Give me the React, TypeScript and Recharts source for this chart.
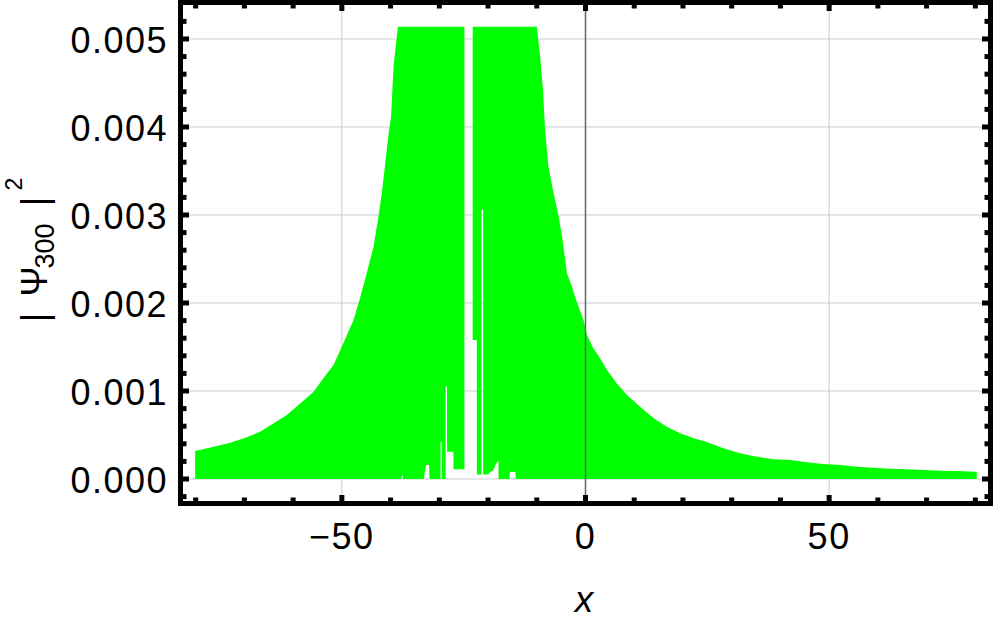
import React from 'react';
import { ComposedChart, Area, XAxis, YAxis, CartesianGrid, ReferenceLine } from 'recharts';

// x positions of the sampled envelope
const xValues = [
  -80.1, -76.3, -72.9, -69.5, -66.8, -64.0, -61.3, -58.5, -55.8, -53.8,
  -51.7, -49.7, -47.6, -46.2, -44.9, -43.5, -42.5, -41.8, -41.1, -40.4,
  -39.9, -39.4, -38.5, -37.8, -37.6, -37.4, -33.2, -32.7, -32.1, -32.0,
  -29.75, -29.74, -29.5, -29.49, -28.7, -28.69, -28.42, -28.41, -27.1, -27.09,
  -24.85, -24.0, -23.15, -22.3, -22.29, -21.35, -21.34, -21.0, -20.99, -20.0,
  -19.6, -18.9, -18.5, -17.85, -17.84, -15.6, -15.5, -14.4, -14.3, -10.0,
  -9.3, -8.7, -8.3, -7.6, -6.6, -5.5, -4.8, -3.8, -2.8, -1.8,
  -0.4, 0.3, 1.6, 3.0, 4.4, 6.4, 8.5, 11.2, 14.0, 16.7,
  19.4, 22.2, 24.9, 28.3, 31.7, 35.2, 38.6, 42.0, 45.4, 48.8,
  52.3, 55.7, 59.1, 62.5, 66.0, 69.4, 72.8, 76.2, 80.3,
];

// upper envelope of |Psi_300|^2 (clipped at the plot range top)
const upperEnvelope = [
  0.000318, 0.000367, 0.000412, 0.000474, 0.000537, 0.000633, 0.000727, 0.00086, 0.000992, 0.001144,
  0.001295, 0.001542, 0.001807, 0.002072, 0.002337, 0.00264, 0.002981, 0.003246, 0.003587, 0.003928,
  0.004117, 0.004685, 0.00514, 0.00514, 0.00514, 0.00514, 0.00514, 0.00514, 0.00514, 0.00514,
  0.00514, 0.00514, 0.00514, 0.00514, 0.00514, 0.00514, 0.00514, 0.00514, 0.00514, 0.00514,
  0.00514, null, 0.00514, 0.00514, 0.00514, 0.00514, 0.00514, 0.00514, 0.00514, 0.00514,
  0.00514, 0.00514, 0.00514, 0.00514, 0.00514, 0.00514, 0.00514, 0.00514, 0.00514, 0.00514,
  0.004799, 0.004401, 0.003966, 0.003549, 0.003265, 0.002981, 0.002753, 0.002337, 0.002186, 0.002015,
  0.001807, 0.001636, 0.001485, 0.001371, 0.001239, 0.001087, 0.000955, 0.000822, 0.000689, 0.000595,
  0.000519, 0.000462, 0.00042, 0.000349, 0.000292, 0.000253, 0.000224, 0.000216, 0.00019, 0.00017,
  0.000159, 0.00014, 0.000128, 0.000117, 0.00011, 0.000102, 0.000094, 0.000091, 0.000083,
];

// lower envelope (minima of the oscillation)
const lowerEnvelope = [
  0, 0, 0, 0, 0, 0, 0, 0, 0, 0,
  0, 0, 0, 0, 0, 0, 0, 0, 0, 0,
  0, 0, 0, 0, 0.00005, 0, 0, 0.00016, 0.00016, 0,
  0, 0.00042, 0.00042, 0, 0, 0.00105, 0.00105, 0.00031, 0.00031, 0.00011,
  0.00011, null, 0.00158, 0.00158, 0.00005, 0.00005, 0.00306, 0.00306, 0.00005, 0.00005,
  0.00008, 0.0001, 0.00016, 0.00021, 0, 0, 0.00008, 0.00008, 0, 0,
  0, 0, 0, 0, 0, 0, 0, 0, 0, 0,
  0, 0, 0, 0, 0, 0, 0, 0, 0, 0,
  0, 0, 0, 0, 0, 0, 0, 0, 0, 0,
  0, 0, 0, 0, 0, 0, 0, 0, 0,
];

const xTicks = [-80, -70, -60, -50, -40, -30, -20, -10, 0, 10, 20, 30, 40, 50, 60, 70, 80];
const xLabeledTicks = [-50, 0, 50];
const yTicks = [
  -0.0002, 0, 0.0002, 0.0004, 0.0006, 0.0008, 0.001, 0.0012, 0.0014, 0.0016, 0.0018,
  0.002, 0.0022, 0.0024, 0.0026, 0.0028, 0.003, 0.0032, 0.0034, 0.0036, 0.0038,
  0.004, 0.0042, 0.0044, 0.0046, 0.0048, 0.005, 0.0052,
];
const yLabeledTicks = [0, 0.001, 0.002, 0.003, 0.004, 0.005];

const chartData = xValues.map((x, i) => ({
  x,
  band: upperEnvelope[i] == null ? null : [lowerEnvelope[i], upperEnvelope[i]],
}));

const W = 997;
const H = 626;
const PLOT_LEFT = 183;
const PLOT_RIGHT = 988;
const PLOT_TOP = 5;
const PLOT_BOTTOM = 501;
const FONT = '"Liberation Sans", Arial, Helvetica, sans-serif';
const GREEN = '#00ff00';

const isLabeled = (list: number[], v: number) => list.some((t) => Math.abs(t - v) < 1e-9);

const fmtX = (v: number) => (v < 0 ? '\u2212' + Math.abs(v) : String(v));

const XTick = (props: any) => {
  const { x, payload } = props;
  const v = payload.value as number;
  const major = isLabeled(xLabeledTicks, v);
  const len = major ? 6 : 3.5;
  return (
    <g>
      <line x1={x} x2={x} y1={PLOT_BOTTOM} y2={PLOT_BOTTOM - len} stroke="#000" strokeWidth={5} />
      <line x1={x} x2={x} y1={PLOT_TOP} y2={PLOT_TOP + len} stroke="#000" strokeWidth={5} />
      {major && (
        <text x={x} y={549} textAnchor="middle" fontSize={36} fontFamily={FONT} fill="#000" letterSpacing={1.5}>
          {fmtX(v)}
        </text>
      )}
    </g>
  );
};

const YTick = (props: any) => {
  const { y, payload } = props;
  const v = payload.value as number;
  const major = isLabeled(yLabeledTicks, v);
  const len = major ? 6 : 3.5;
  return (
    <g>
      <line x1={PLOT_LEFT} x2={PLOT_LEFT + len} y1={y} y2={y} stroke="#000" strokeWidth={5} />
      <line x1={PLOT_RIGHT} x2={PLOT_RIGHT - len} y1={y} y2={y} stroke="#000" strokeWidth={5} />
      {major && (
        <text x={168} y={y + 14} textAnchor="end" fontSize={36} fontFamily={FONT} fill="#000" letterSpacing={1.5}>
          {v.toFixed(3)}
        </text>
      )}
    </g>
  );
};

const YLabel = () => (
  <g transform="translate(47,0) rotate(-90)" fontFamily={FONT} fill="#000">
    <text x={-317.5} y={0} textAnchor="middle" fontSize={36}>|</text>
    <text x={-281.5} y={0} textAnchor="middle" fontSize={36}>Ψ</text>
    <text x={-246} y={6.7} textAnchor="middle" fontSize={27}>300</text>
    <text x={-201.5} y={0} textAnchor="middle" fontSize={36}>|</text>
    <text x={-184} y={-25} textAnchor="middle" fontSize={23}>2</text>
  </g>
);

const XLabel = () => (
  <text x={584} y={612} textAnchor="middle" fontSize={37} fontStyle="italic" fontFamily={FONT} fill="#000">
    x
  </text>
);

export default function App() {
  return (
    <div style={{ position: 'absolute', left: 0, top: 0, width: W, height: H, background: '#fff' }}>
      <ComposedChart
        width={W}
        height={H}
        data={chartData}
        margin={{ top: PLOT_TOP, right: W - PLOT_RIGHT, bottom: 0, left: 0 }}
      >
        <CartesianGrid
          stroke="#cccccc"
          strokeWidth={1}
          horizontalValues={yLabeledTicks}
          verticalValues={[-50, 50]}
        />
        <XAxis
          dataKey="x"
          type="number"
          domain={[-82.6, 82.6]}
          allowDataOverflow
          ticks={xTicks}
          interval={0}
          height={H - PLOT_BOTTOM}
          axisLine={false}
          tickLine={false}
          tick={<XTick />}
          label={<XLabel />}
        />
        <YAxis
          type="number"
          domain={[-0.00025, 0.005386]}
          allowDataOverflow
          ticks={yTicks}
          interval={0}
          width={PLOT_LEFT}
          axisLine={false}
          tickLine={false}
          tick={<YTick />}
          label={<YLabel />}
        />
        <Area
          dataKey="band"
          type="linear"
          fill={GREEN}
          fillOpacity={1}
          stroke="none"
          isAnimationActive={false}
          connectNulls={false}
          dot={false}
          activeDot={false}
        />
        <ReferenceLine x={0} stroke="#666" strokeWidth={1.5} />
      </ComposedChart>
      <div
        style={{
          position: 'absolute',
          left: PLOT_LEFT - 5,
          top: 0,
          width: PLOT_RIGHT - PLOT_LEFT + 10,
          height: PLOT_BOTTOM + 5,
          border: '5px solid #000',
          boxSizing: 'border-box',
          pointerEvents: 'none',
        }}
      />
    </div>
  );
}
